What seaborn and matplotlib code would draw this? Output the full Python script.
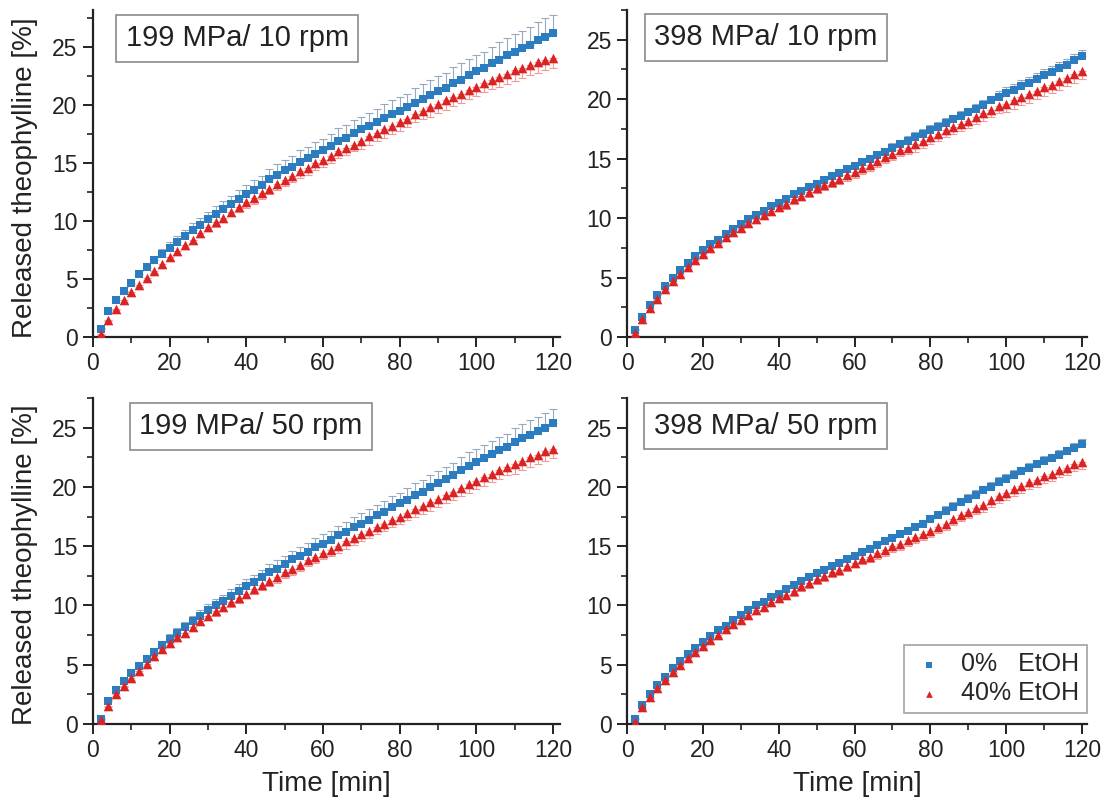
import numpy as np
import matplotlib
matplotlib.use("Agg")
import matplotlib.pyplot as plt
import seaborn as sns
from matplotlib.ticker import MultipleLocator

# sampling times [min]
time = list(range(2, 122, 2))

# 199 MPa / 10 rpm
tl_blue = [0.7, 2.2, 3.2, 4.0, 4.7, 5.4, 6.0, 6.6, 7.2, 7.7,
           8.2, 8.7, 9.2, 9.7, 10.2, 10.6, 11.0, 11.5, 11.9, 12.3,
           12.7, 13.1, 13.6, 14.0, 14.4, 14.7, 15.1, 15.4, 15.8, 16.1,
           16.5, 16.9, 17.2, 17.6, 17.9, 18.2, 18.5, 18.9, 19.2, 19.5,
           19.8, 20.2, 20.5, 20.9, 21.2, 21.5, 21.9, 22.2, 22.6, 22.9,
           23.2, 23.6, 23.9, 24.3, 24.6, 24.9, 25.2, 25.6, 25.9, 26.2]
tl_red = [0.3, 1.5, 2.4, 3.2, 3.9, 4.5, 5.1, 5.7, 6.3, 6.9,
          7.4, 7.9, 8.4, 9.0, 9.5, 9.9, 10.3, 10.8, 11.2, 11.6,
          12.0, 12.4, 12.8, 13.2, 13.5, 13.9, 14.3, 14.6, 15.0, 15.3,
          15.6, 16.0, 16.3, 16.6, 16.9, 17.3, 17.6, 17.9, 18.2, 18.5,
          18.8, 19.2, 19.5, 19.8, 20.1, 20.4, 20.7, 21.0, 21.3, 21.6,
          21.9, 22.2, 22.4, 22.7, 23.0, 23.2, 23.5, 23.7, 23.9, 24.1]
tl_blue_err = [0.1, 0.2, 0.2, 0.3, 0.3, 0.3, 0.4, 0.4, 0.4, 0.5,
               0.5, 0.5, 0.6, 0.6, 0.6, 0.7, 0.7, 0.7, 0.8, 0.8,
               0.8, 0.8, 0.9, 0.9, 0.9, 0.9, 1.0, 1.0, 1.0, 1.0,
               1.0, 1.1, 1.1, 1.1, 1.1, 1.1, 1.2, 1.2, 1.2, 1.2,
               1.2, 1.3, 1.3, 1.3, 1.3, 1.3, 1.4, 1.4, 1.4, 1.4,
               1.4, 1.4, 1.5, 1.5, 1.5, 1.5, 1.5, 1.6, 1.6, 1.6]
tl_red_err = [0.1, 0.1, 0.1, 0.2, 0.2, 0.2, 0.2, 0.2, 0.3, 0.3,
              0.3, 0.3, 0.3, 0.4, 0.4, 0.4, 0.4, 0.4, 0.4, 0.5,
              0.5, 0.5, 0.5, 0.5, 0.5, 0.5, 0.6, 0.6, 0.6, 0.6,
              0.6, 0.6, 0.6, 0.6, 0.7, 0.7, 0.7, 0.7, 0.7, 0.7,
              0.7, 0.7, 0.7, 0.8, 0.8, 0.8, 0.8, 0.8, 0.8, 0.8,
              0.8, 0.8, 0.8, 0.9, 0.9, 0.9, 0.9, 0.9, 0.9, 0.9]

# 398 MPa / 10 rpm
tr_blue = [0.6, 1.7, 2.7, 3.5, 4.3, 5.0, 5.6, 6.2, 6.8, 7.3,
           7.8, 8.2, 8.7, 9.1, 9.5, 9.9, 10.3, 10.6, 11.0, 11.3,
           11.6, 12.0, 12.3, 12.6, 12.9, 13.2, 13.5, 13.8, 14.1, 14.4,
           14.7, 15.0, 15.3, 15.6, 15.9, 16.2, 16.5, 16.8, 17.1, 17.4,
           17.7, 18.0, 18.3, 18.6, 18.9, 19.2, 19.5, 19.9, 20.2, 20.5,
           20.8, 21.1, 21.4, 21.7, 22.0, 22.3, 22.6, 22.9, 23.3, 23.6]
tr_red = [0.3, 1.5, 2.4, 3.2, 4.0, 4.7, 5.3, 5.9, 6.5, 7.0,
          7.5, 7.9, 8.4, 8.8, 9.2, 9.6, 9.9, 10.3, 10.6, 10.9,
          11.2, 11.6, 11.9, 12.2, 12.5, 12.8, 13.0, 13.3, 13.6, 13.9,
          14.2, 14.5, 14.8, 15.1, 15.4, 15.7, 15.9, 16.2, 16.5, 16.8,
          17.1, 17.4, 17.7, 17.9, 18.2, 18.5, 18.8, 19.1, 19.4, 19.6,
          19.9, 20.2, 20.4, 20.7, 21.0, 21.2, 21.5, 21.8, 22.1, 22.4]
tr_blue_err = [0.1, 0.1, 0.1, 0.1, 0.1, 0.1, 0.1, 0.2, 0.2, 0.2,
               0.2, 0.2, 0.2, 0.2, 0.2, 0.2, 0.2, 0.2, 0.2, 0.3,
               0.3, 0.3, 0.3, 0.3, 0.3, 0.3, 0.3, 0.3, 0.3, 0.3,
               0.3, 0.3, 0.3, 0.3, 0.4, 0.4, 0.4, 0.4, 0.4, 0.4,
               0.4, 0.4, 0.4, 0.4, 0.4, 0.4, 0.4, 0.4, 0.5, 0.5,
               0.5, 0.5, 0.5, 0.5, 0.5, 0.5, 0.5, 0.5, 0.5, 0.5]
tr_red_err = [0.1, 0.1, 0.1, 0.1, 0.1, 0.2, 0.2, 0.2, 0.2, 0.2,
              0.2, 0.2, 0.3, 0.3, 0.3, 0.3, 0.3, 0.3, 0.3, 0.3,
              0.4, 0.4, 0.4, 0.4, 0.4, 0.4, 0.4, 0.4, 0.5, 0.5,
              0.5, 0.5, 0.5, 0.5, 0.5, 0.5, 0.5, 0.6, 0.6, 0.6,
              0.6, 0.6, 0.6, 0.6, 0.6, 0.6, 0.6, 0.6, 0.6, 0.7,
              0.7, 0.7, 0.7, 0.7, 0.7, 0.7, 0.7, 0.7, 0.7, 0.7]

# 199 MPa / 50 rpm
bl_blue = [0.4, 1.9, 2.9, 3.6, 4.3, 4.9, 5.5, 6.1, 6.7, 7.2,
           7.7, 8.2, 8.7, 9.1, 9.6, 10.0, 10.4, 10.8, 11.2, 11.6,
           12.0, 12.4, 12.8, 13.1, 13.5, 13.9, 14.2, 14.5, 14.9, 15.2,
           15.5, 15.9, 16.2, 16.6, 16.9, 17.2, 17.6, 17.9, 18.3, 18.6,
           18.9, 19.3, 19.6, 20.0, 20.3, 20.7, 21.0, 21.4, 21.8, 22.1,
           22.4, 22.8, 23.1, 23.4, 23.8, 24.1, 24.4, 24.7, 25.0, 25.4]
bl_red = [0.3, 1.5, 2.5, 3.2, 3.9, 4.5, 5.1, 5.7, 6.3, 6.8,
          7.3, 7.7, 8.2, 8.7, 9.1, 9.5, 9.9, 10.3, 10.6, 11.0,
          11.4, 11.7, 12.1, 12.4, 12.8, 13.1, 13.4, 13.8, 14.1, 14.4,
          14.7, 15.0, 15.4, 15.7, 16.0, 16.3, 16.6, 16.9, 17.2, 17.5,
          17.8, 18.1, 18.4, 18.7, 19.0, 19.3, 19.6, 19.9, 20.2, 20.5,
          20.8, 21.1, 21.4, 21.7, 21.9, 22.2, 22.5, 22.7, 23.0, 23.2]
bl_blue_err = [0.1, 0.1, 0.2, 0.2, 0.2, 0.3, 0.3, 0.3, 0.3, 0.4,
               0.4, 0.4, 0.4, 0.5, 0.5, 0.5, 0.5, 0.6, 0.6, 0.6,
               0.6, 0.6, 0.7, 0.7, 0.7, 0.7, 0.7, 0.8, 0.8, 0.8,
               0.8, 0.8, 0.8, 0.9, 0.9, 0.9, 0.9, 0.9, 0.9, 0.9,
               1.0, 1.0, 1.0, 1.0, 1.0, 1.0, 1.0, 1.1, 1.1, 1.1,
               1.1, 1.1, 1.1, 1.1, 1.2, 1.2, 1.2, 1.2, 1.2, 1.2]
bl_red_err = [0.1, 0.1, 0.1, 0.1, 0.2, 0.2, 0.2, 0.2, 0.2, 0.3,
              0.3, 0.3, 0.3, 0.3, 0.3, 0.4, 0.4, 0.4, 0.4, 0.4,
              0.4, 0.4, 0.5, 0.5, 0.5, 0.5, 0.5, 0.5, 0.5, 0.5,
              0.5, 0.6, 0.6, 0.6, 0.6, 0.6, 0.6, 0.6, 0.6, 0.6,
              0.6, 0.6, 0.7, 0.7, 0.7, 0.7, 0.7, 0.7, 0.7, 0.7,
              0.7, 0.7, 0.7, 0.7, 0.8, 0.8, 0.8, 0.8, 0.8, 0.8]

# 398 MPa / 50 rpm
br_blue = [0.4, 1.6, 2.5, 3.3, 4.0, 4.7, 5.3, 5.9, 6.4, 6.9,
           7.4, 7.9, 8.3, 8.8, 9.2, 9.6, 10.0, 10.3, 10.7, 11.0,
           11.4, 11.7, 12.1, 12.4, 12.7, 13.0, 13.3, 13.6, 13.9, 14.2,
           14.5, 14.8, 15.1, 15.4, 15.7, 16.0, 16.3, 16.6, 16.9, 17.3,
           17.6, 18.0, 18.3, 18.7, 19.0, 19.3, 19.7, 20.0, 20.4, 20.7,
           21.0, 21.3, 21.6, 21.9, 22.2, 22.4, 22.7, 23.0, 23.3, 23.6]
br_red = [0.2, 1.4, 2.3, 3.0, 3.7, 4.4, 5.0, 5.6, 6.1, 6.6,
          7.1, 7.5, 8.0, 8.4, 8.8, 9.2, 9.6, 9.9, 10.3, 10.6,
          10.9, 11.2, 11.6, 11.9, 12.2, 12.5, 12.8, 13.0, 13.3, 13.6,
          13.9, 14.1, 14.4, 14.7, 15.0, 15.2, 15.5, 15.8, 16.0, 16.3,
          16.6, 16.9, 17.3, 17.6, 17.9, 18.2, 18.5, 18.9, 19.2, 19.5,
          19.8, 20.1, 20.4, 20.6, 20.9, 21.1, 21.4, 21.6, 21.9, 22.1]
br_blue_err = [0.1, 0.1, 0.1, 0.1, 0.1, 0.1, 0.1, 0.1, 0.2, 0.2,
               0.2, 0.2, 0.2, 0.2, 0.2, 0.2, 0.2, 0.2, 0.2, 0.2,
               0.2, 0.2, 0.3, 0.3, 0.3, 0.3, 0.3, 0.3, 0.3, 0.3,
               0.3, 0.3, 0.3, 0.3, 0.3, 0.3, 0.3, 0.3, 0.3, 0.3,
               0.4, 0.4, 0.4, 0.4, 0.4, 0.4, 0.4, 0.4, 0.4, 0.4,
               0.4, 0.4, 0.4, 0.4, 0.4, 0.4, 0.4, 0.4, 0.4, 0.4]
br_red_err = [0.1, 0.1, 0.1, 0.1, 0.1, 0.1, 0.2, 0.2, 0.2, 0.2,
              0.2, 0.2, 0.2, 0.3, 0.3, 0.3, 0.3, 0.3, 0.3, 0.3,
              0.3, 0.4, 0.4, 0.4, 0.4, 0.4, 0.4, 0.4, 0.4, 0.4,
              0.4, 0.4, 0.5, 0.5, 0.5, 0.5, 0.5, 0.5, 0.5, 0.5,
              0.5, 0.5, 0.5, 0.5, 0.5, 0.5, 0.6, 0.6, 0.6, 0.6,
              0.6, 0.6, 0.6, 0.6, 0.6, 0.6, 0.6, 0.6, 0.6, 0.6]

panel_titles = ["199 MPa/ 10 rpm", "398 MPa/ 10 rpm", "199 MPa/ 50 rpm", "398 MPa/ 50 rpm"]
series_labels = ["0%   EtOH", "40% EtOH"]
y_ticks = [0, 5, 10, 15, 20, 25]
x_ticks = [0, 20, 40, 60, 80, 100, 120]

BLUE = "#2c7dc0"
RED = "#dc2323"
BLUE_ERR = "#97a9bf"
RED_ERR = "#f29a9a"
INK = "#222222"

sns.set_style("ticks")
plt.rcParams["font.family"] = ["Liberation Sans", "DejaVu Sans"]

fig = plt.figure(figsize=(11.11, 8.02), dpi=100)

panels = [
    # axes rect, xmax, ymax, title position (axes coords), data
    ([0.0837, 0.5798, 0.4203, 0.4077], 121.8, 28.2, (0.309, 0.913), tl_blue, tl_red, tl_blue_err, tl_red_err),
    ([0.5644, 0.5798, 0.4140, 0.4077], 121.3, 27.5, (0.302, 0.916), tr_blue, tr_red, tr_blue_err, tr_red_err),
    ([0.0837, 0.0973, 0.4203, 0.4065], 121.8, 27.5, (0.338, 0.913), bl_blue, bl_red, bl_blue_err, bl_red_err),
    ([0.5644, 0.0973, 0.4140, 0.4065], 121.3, 27.5, (0.301, 0.914), br_blue, br_red, br_blue_err, br_red_err),
]

for i, (rect, xmax, ymax, tpos, blue, red, berr, rerr) in enumerate(panels):
    ax = fig.add_axes(rect)
    zeros = np.zeros(len(time))

    # error bars: upper for 0% EtOH, lower for 40% EtOH
    ax.errorbar(time, blue, yerr=[zeros, berr], fmt="none", ecolor=BLUE_ERR,
                elinewidth=0.8, capsize=3, capthick=0.8, zorder=1)
    ax.errorbar(time, red, yerr=[rerr, zeros], fmt="none", ecolor=RED_ERR,
                elinewidth=0.8, capsize=3, capthick=0.8, zorder=1)

    sns.scatterplot(x=time, y=blue, ax=ax, marker="s", color=BLUE, s=32,
                    linewidth=0, label=series_labels[0], zorder=3)
    sns.scatterplot(x=time, y=red, ax=ax, marker="^", color=RED, s=48,
                    linewidth=0, label=series_labels[1], zorder=3)

    ax.set_xlim(0, xmax)
    ax.set_ylim(0, ymax)
    ax.set_xticks(x_ticks)
    ax.set_yticks(y_ticks)
    ax.xaxis.set_minor_locator(MultipleLocator(10))
    ax.yaxis.set_minor_locator(MultipleLocator(2.5))
    ax.tick_params(which="major", length=7, width=1.4, labelsize=16.5, pad=4,
                   direction="out", colors=INK)
    ax.tick_params(which="minor", length=4, width=1.2, direction="out", colors=INK)
    sns.despine(ax=ax)
    for sp in ["left", "bottom"]:
        ax.spines[sp].set_linewidth(1.6)
        ax.spines[sp].set_color(INK)

    ax.text(tpos[0], tpos[1], panel_titles[i], transform=ax.transAxes, ha="center", va="center",
            fontsize=21, color=INK,
            bbox=dict(boxstyle="square,pad=0.32", facecolor="white", edgecolor="#8a8a8a", linewidth=1.2))

    ax.set_ylabel("")
    if i >= 2:
        ax.set_xlabel("Time [min]", fontsize=20, color=INK)
        ax.xaxis.set_label_coords(0.5, -0.145)

    if i == 3:
        leg = ax.legend(loc="lower right", bbox_to_anchor=(1.0, 0.034), borderaxespad=0,
                        fontsize=18, frameon=True, fancybox=False, edgecolor="#8a8a8a",
                        markerscale=0.7, handletextpad=0.6, borderpad=0.3,
                        labelspacing=0.2, handlelength=1.4)
        leg.get_frame().set_linewidth(1.2)
    else:
        ax.get_legend().remove()

# y axis titles, one per row
fig.text(0.0225, 0.779, "Released theophylline [%]", rotation=90, ha="center", va="center",
         fontsize=20, color=INK)
fig.text(0.0225, 0.296, "Released theophylline [%]", rotation=90, ha="center", va="center",
         fontsize=20, color=INK)

fig.savefig("out.png", dpi=100)
